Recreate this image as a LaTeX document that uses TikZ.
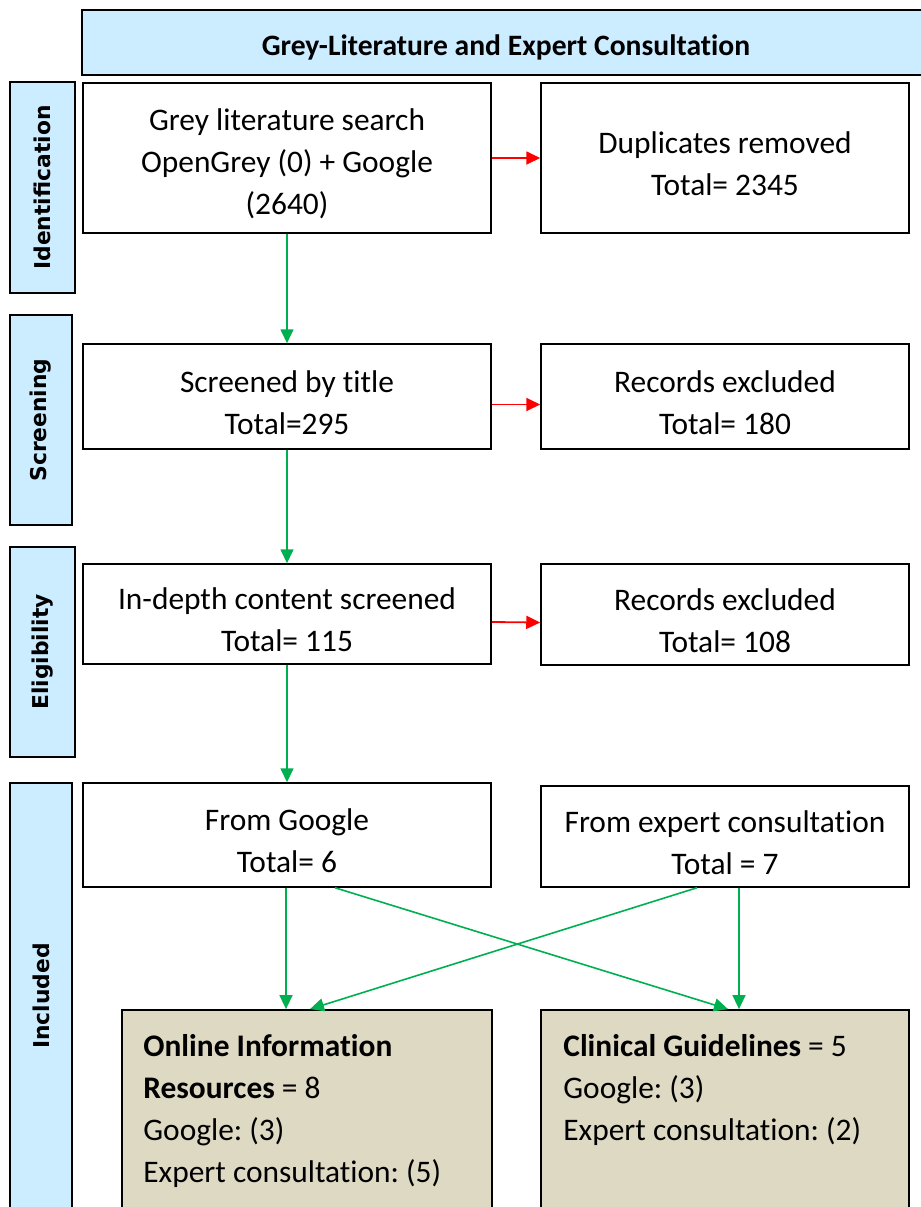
\documentclass[tikz,border=0pt]{standalone}
\usepackage{fontspec}
\setmainfont{Carlito}[RawFeature={-liga;-clig;-calt;-dlig}]
\newfontfamily\sidefont{DejaVu Sans}
\usetikzlibrary{arrows.meta}

\definecolor{hdrblue}{HTML}{CCECFF}
\definecolor{resultbg}{HTML}{DDD9C3}
\definecolor{flowgreen}{HTML}{00B050}
\newcommand\lowerby{\rule{0pt}{17pt}}

\tikzset{
	box/.style={draw, line width=0.75pt, fill=white, align=center, inner sep=0pt,
		font=\fontsize{15.7}{21}\selectfont},
	hdrbox/.style={draw, line width=0.75pt, fill=hdrblue, inner sep=0pt, text height=16pt, text depth=3pt,
		font=\bfseries\fontsize{14.8}{18}\selectfont},
	resultbox/.style={draw, line width=0.9pt, fill=resultbg, inner sep=0pt},
	resulttext/.style={anchor=north west, align=left, inner sep=0pt, font=\fontsize{15.7}{21}\selectfont},
	sidebox/.style={draw, line width=1.1pt, fill=hdrblue, rotate=90, inner sep=0pt,
		font=\sidefont\bfseries\fontsize{10.9}{13}\selectfont},
	greenarrow/.style={draw=flowgreen, line width=0.8pt, -{Triangle[length=7pt,width=6.5pt]}},
	redarrow/.style={draw=red, line width=0.9pt, -{Triangle[length=7pt,width=6.5pt]}},
}

\begin{document}
\frenchspacing
\begin{tikzpicture}[x=0.5pt,y=-0.5pt]
	\useasboundingbox (0,0) rectangle (921,1207);
	\clip (0,0) rectangle (921,1207);
	% header
	\node[hdrbox, minimum width=424pt, minimum height=32.5pt] (hdr) at (506,42.5) {Grey-Literature and Expert Consultation};
	% stage labels
	\node[sidebox, minimum width=105.5pt, minimum height=32.5pt] (ident) at (42.5,187.5) {Identification};
	\node[sidebox, minimum width=105pt, minimum height=31pt] (screen) at (41,420) {Screening};
	\node[sidebox, minimum width=105pt, minimum height=32.5pt] (elig) at (42.5,652) {Eligibility};
	\node[sidebox, minimum width=223.5pt, minimum height=31pt] (incl) at (41,1006.5) {};
	\node[rotate=90, font=\sidefont\bfseries\fontsize{10.9}{13}\selectfont] (incltxt) at (41,996) {Included};
	% flow boxes
	\node[box, minimum width=204pt, minimum height=75pt] (search) at (287,158)
		{\lowerby Grey literature search\\OpenGrey (0) + Google\\(2640)};
	\node[box, minimum width=184pt, minimum height=75pt] (dup) at (725,158)
		{\lowerby Duplicates removed\\Total= 2345};
	\node[box, minimum width=204pt, minimum height=52.5pt] (title) at (287,396.5)
		{\lowerby Screened by title\\Total=295};
	\node[box, minimum width=184pt, minimum height=52.5pt] (excla) at (725,396.5)
		{\lowerby Records excluded\\Total= 180};
	\node[box, minimum width=204pt, minimum height=50pt] (content) at (287,614)
		{\lowerby In-depth content screened\\Total= 115};
	\node[box, minimum width=184pt, minimum height=50.5pt] (exclb) at (725,614.5)
		{\lowerby Records excluded\\Total= 108};
	\node[box, minimum width=204pt, minimum height=52pt] (google) at (287,835)
		{\lowerby From Google\\Total= 6};
	\node[box, minimum width=184pt, minimum height=50.5pt] (expert) at (725,836.5)
		{\lowerby From expert consultation\\Total = 7};
	% results
	\node[resultbox, minimum width=185pt, minimum height=110pt] (online) at (307,1120) {};
	\node[resultbox, minimum width=184pt, minimum height=110pt] (clin) at (725,1120) {};
	\node[resulttext] (onlinetxt) at (143,1034)
		{\textbf{Online Information}\\\textbf{Resources} = 8\\Google: (3)\\Expert consultation: (5)};
	\node[resulttext] (clintxt) at (563,1034)
		{\textbf{Clinical Guidelines} = 5\\Google: (3)\\Expert consultation: (2)};
	% arrows
	\draw[redarrow] (search.east) -- (dup.west);
	\draw[redarrow] ([yshift=-4pt]title.east) -- ([yshift=-4pt]excla.west);
	\draw[redarrow] ([yshift=-4pt]content.east) -- ([yshift=-4pt]exclb.west);
	\draw[greenarrow] (search.south) -- (title.north);
	\draw[greenarrow] (title.south) -- (content.north);
	\draw[greenarrow] (content.south) -- (google.north);
	\draw[greenarrow] ([xshift=-0.5pt]google.south) -- ([xshift=-0.5pt]google.south |- online.north);
	\draw[greenarrow] ([xshift=24pt]google.south) -- ([xshift=1.5pt]clin.north);
	\draw[greenarrow] ([xshift=-14pt]expert.south) -- ([xshift=1.5pt]online.north);
	\draw[greenarrow] ([xshift=7pt]expert.south) -- ([xshift=7pt]clin.north);
\end{tikzpicture}
\end{document}
